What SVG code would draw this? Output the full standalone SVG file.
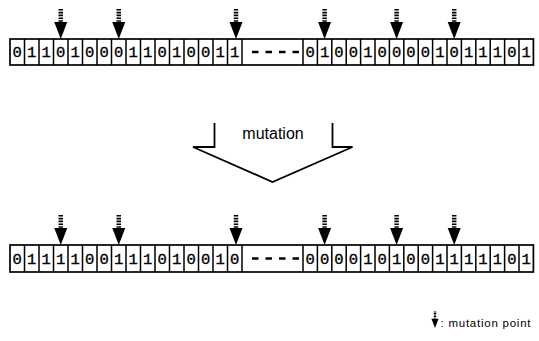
<svg xmlns="http://www.w3.org/2000/svg" xmlns:xlink="http://www.w3.org/1999/xlink" width="539" height="341" viewBox="0 0 539 341">
<style>
.box{fill:#fff;stroke:#000;stroke-width:1.7}
.div{fill:none;stroke:#000;stroke-width:1.5}
.bit{font-family:"Liberation Mono",monospace;font-size:15.5px;fill:#000;stroke:#000;stroke-width:0.35;text-anchor:middle}
.dash{stroke:#000;stroke-width:2.4;stroke-dasharray:6.5 7}
.lbl{font-family:"Liberation Sans",Arial,sans-serif;fill:#000}
.big{fill:none;stroke:#000;stroke-width:1.8;stroke-linejoin:miter}
</style>
<defs>
<g id="mp">
<line x1="0" y1="-30" x2="0" y2="-17" stroke="#000" stroke-width="4.5" stroke-dasharray="1.6 1.2"/>
<polygon points="-6.5,-17 6.5,-17 0,0" fill="#000"/>
</g>
</defs>
<rect width="539" height="341" fill="#fff"/>

<g id="chromosome-before">
<rect class="box" x="10" y="39" width="523.4" height="26"/>
<path class="div" d="M24.5 39V65M39 39V65M53.5 39V65M68 39V65M82.5 39V65M97 39V65M111.5 39V65M126 39V65M140.5 39V65M155 39V65M169.5 39V65M184 39V65M198.5 39V65M213 39V65M227.5 39V65M242 39V65M303 39V65M317.4 39V65M331.8 39V65M346.2 39V65M360.6 39V65M375 39V65M389.4 39V65M403.8 39V65M418.2 39V65M432.6 39V65M447 39V65M461.4 39V65M475.8 39V65M490.2 39V65M504.6 39V65M519 39V65"/>
<text class="bit" x="17.25 31.75 46.25 60.75 75.25 89.75 104.25 118.75 133.25 147.75 162.25 176.75 191.25 205.75 220.25 234.75" y="57">0110100011010011</text>
<line class="dash" x1="252" y1="52" x2="300" y2="52"/>
<text class="bit" x="310.2 324.6 339 353.4 367.8 382.2 396.6 411 425.4 439.8 454.2 468.6 483 497.4 511.8 526.2" y="57">0100100001011101</text>
</g>

<g id="chromosome-after">
<rect class="box" x="10" y="245" width="523.4" height="27"/>
<path class="div" d="M24.5 245V272M39 245V272M53.5 245V272M68 245V272M82.5 245V272M97 245V272M111.5 245V272M126 245V272M140.5 245V272M155 245V272M169.5 245V272M184 245V272M198.5 245V272M213 245V272M227.5 245V272M242 245V272M303 245V272M317.4 245V272M331.8 245V272M346.2 245V272M360.6 245V272M375 245V272M389.4 245V272M403.8 245V272M418.2 245V272M432.6 245V272M447 245V272M461.4 245V272M475.8 245V272M490.2 245V272M504.6 245V272M519 245V272"/>
<text class="bit" x="17.25 31.75 46.25 60.75 75.25 89.75 104.25 118.75 133.25 147.75 162.25 176.75 191.25 205.75 220.25 234.75" y="263.5">0111100111010010</text>
<line class="dash" x1="252" y1="258.5" x2="300" y2="258.5"/>
<text class="bit" x="310.2 324.6 339 353.4 367.8 382.2 396.6 411 425.4 439.8 454.2 468.6 483 497.4 511.8 526.2" y="263.5">0000101001111101</text>
</g>

<g id="mutation-operator">
<path class="big" d="M214.5 123V147H193L272.5 182L352.5 147H332.5V123"/>
<text class="lbl" x="273" y="139" font-size="16" text-anchor="middle">mutation</text>
</g>

<g id="connectors">
<use xlink:href="#mp" x="60.75" y="39"/>
<use xlink:href="#mp" x="118.75" y="39"/>
<use xlink:href="#mp" x="236" y="39"/>
<use xlink:href="#mp" x="324.6" y="39"/>
<use xlink:href="#mp" x="396.6" y="39"/>
<use xlink:href="#mp" x="454.2" y="39"/>
<use xlink:href="#mp" x="60.75" y="245"/>
<use xlink:href="#mp" x="118.75" y="245"/>
<use xlink:href="#mp" x="236" y="245"/>
<use xlink:href="#mp" x="324.6" y="245"/>
<use xlink:href="#mp" x="396.6" y="245"/>
<use xlink:href="#mp" x="454.2" y="245"/>
</g>

<g id="legend">
<use xlink:href="#mp" transform="translate(435 328) scale(0.55)"/>
<text class="lbl" x="440.5" y="326.5" font-size="11.5" textLength="90" lengthAdjust="spacing">: mutation point</text>
</g>
</svg>
